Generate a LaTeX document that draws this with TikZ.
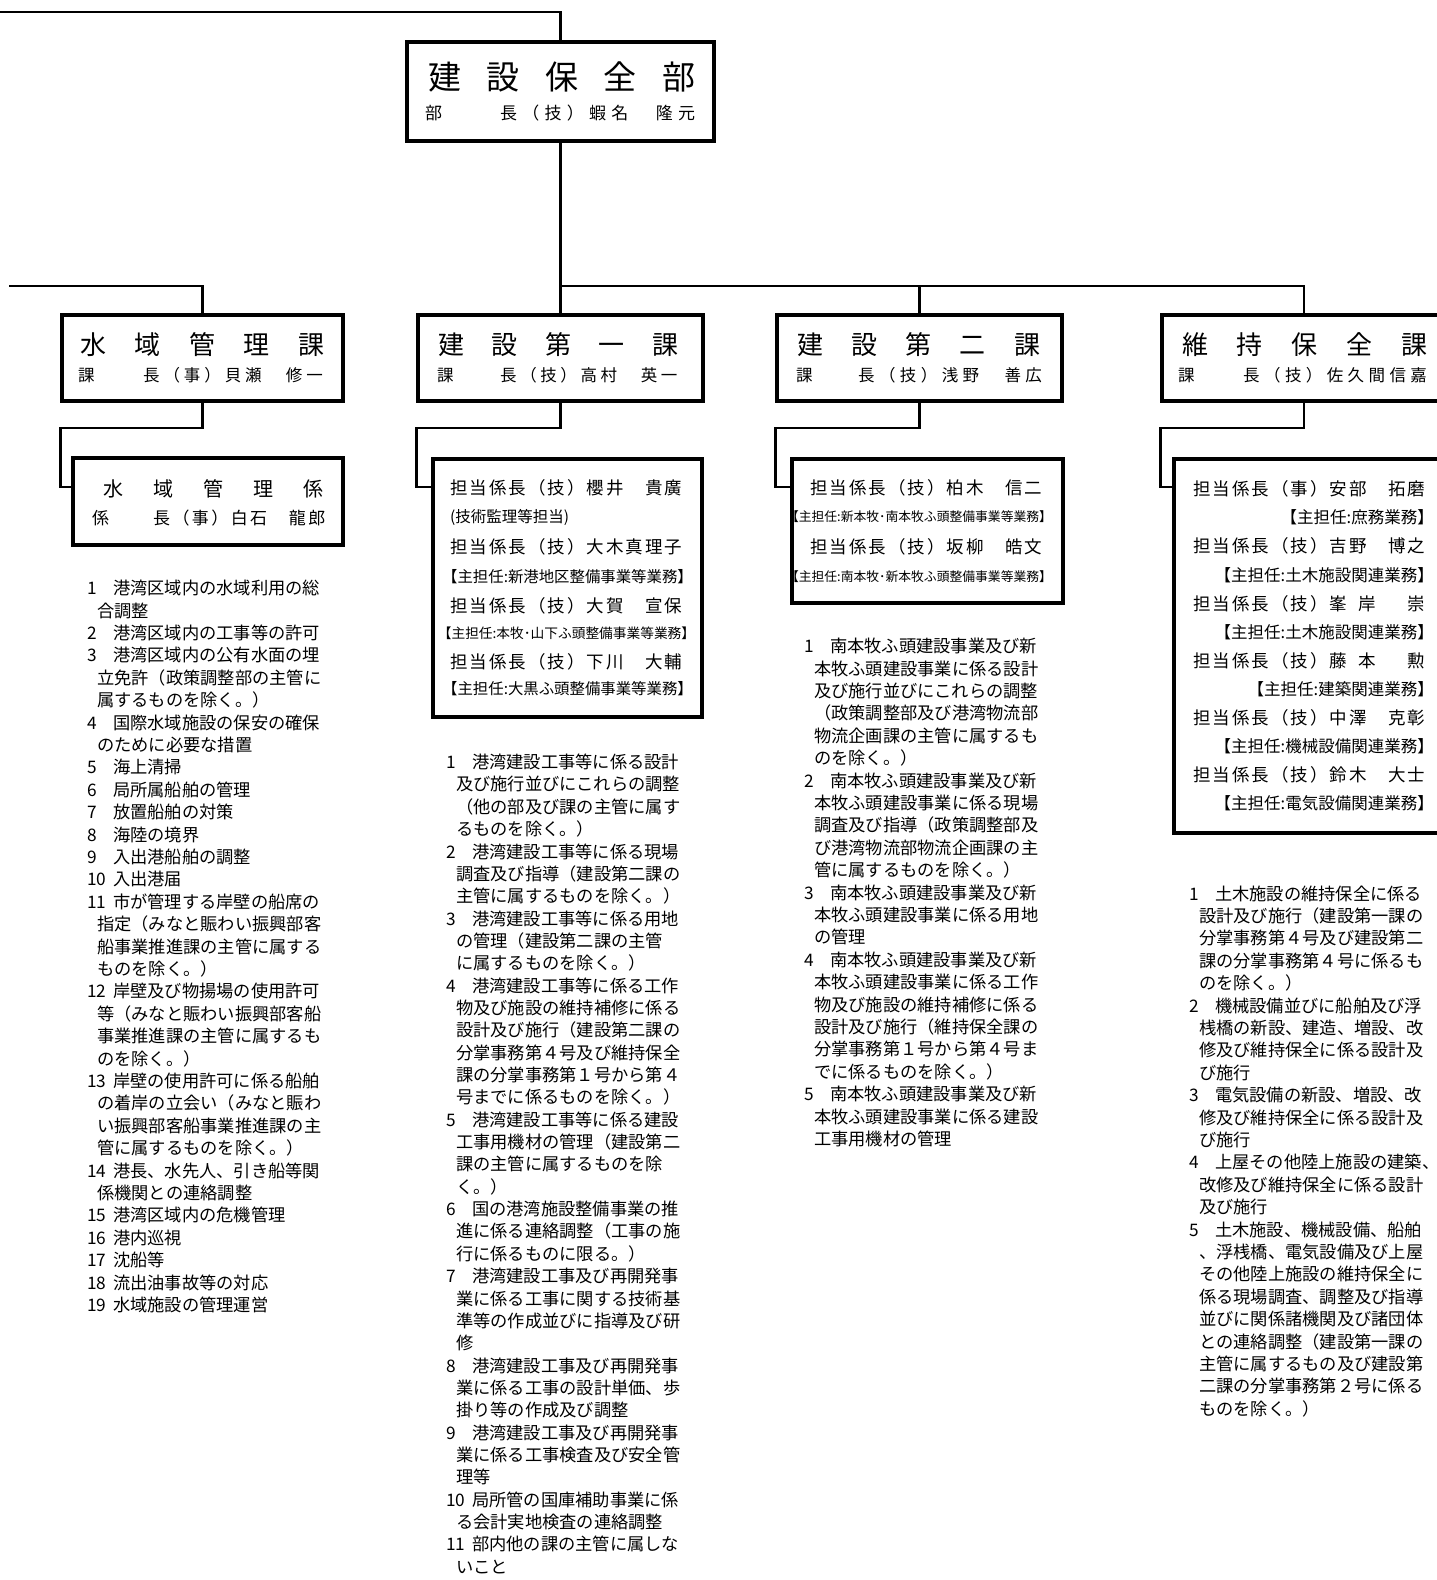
\documentclass[tikz,border=0pt]{standalone}
\usepackage{fontspec}
\setmainfont{Noto Sans CJK JP}
\makeatletter
\newdimen\fixpp
\def\fixpend{\fixpend}
\def\hblk{\hblk}
\def\blk{}
\newcommand\fixp[2]{\fixpp=#1\relax\hbox{\fixp@loop#2\fixpend}}
\def\fixp@loop#1{\ifx#1\fixpend\else\ifx#1\hblk\hspace*{0.5\fixpp}\else\makebox[\fixpp][l]{#1}\fi\expandafter\fixp@loop\fi}
\makeatother
\newcommand\fsz[1]{\fontsize{#1}{#1}\selectfont}
\newcommand\litem[2]{\makebox[26pt][l]{#1}#2}
\newcommand\lcont[1]{\hspace*{10pt}#1}
\begin{document}
\begin{tikzpicture}[x=1pt,y=-1pt,
 box/.style={draw=black, line width=3.4pt, rectangle, inner sep=0pt},
 conn/.style={line width=2.6pt},
 txt/.style={inner sep=0pt, anchor=west},
 lst/.style={inner sep=0pt, anchor=base west, font=\fsz{17.25}},
 ttl/.style={txt, font=\fsz{26}},
 subline/.style={txt, font=\fsz{16.5}},
 tanto/.style={txt, font=\fsz{17.5}},
 shutan/.style={inner sep=0pt}]
\useasboundingbox (0,0) rectangle (1437,1580);
\fill[white] (0,0) rectangle (1437,1580);

% boxes
\node[box, minimum width=307pt, minimum height=99pt] (top) at (560.5,91.5) {};
\node[box, minimum width=281pt, minimum height=86pt] (s1) at (202.5,358) {};
\node[box, minimum width=285pt, minimum height=86pt] (s2) at (560.5,358) {};
\node[box, minimum width=285pt, minimum height=86pt] (s3) at (919.5,358) {};
\node[box, minimum width=284pt, minimum height=86pt] (s4) at (1304,358) {};
\node[box, minimum width=270pt, minimum height=87pt] (b1) at (208,501.5) {};
\node[box, minimum width=269pt, minimum height=258pt] (b2) at (567.5,588) {};
\node[box, minimum width=271pt, minimum height=144pt] (b3) at (927.5,531) {};
\node[box, minimum width=286pt, minimum height=374pt] (b4) at (1317,646) {};

% connectors
\coordinate (tl) at (0,12);
\coordinate (bar) at (0,286);
\coordinate (lb) at (9,286);
\coordinate (ya) at (0,428);
\coordinate (yb) at (0,487);
\draw[conn] (tl) -- (top.north |- tl) -- (top.north);
\draw[conn] (top.south) -- (s2.north);
\draw[conn] (s2.north |- bar) -- (s4.north |- bar) -- (s4.north);
\draw[conn] (s3.north |- bar) -- (s3.north);
\draw[conn] (lb) -- (s1.north |- lb) -- (s1.north);
\foreach \s/\b in {s1/b1,s2/b2,s3/b3,s4/b4}
  \draw[conn] (\s.south) -- (\s.south |- ya) -- (\s.west |- ya) -- (\s.west |- yb) -- (\b.west |- yb);

% top box text
\node[txt, font=\fsz{33}] (t0) at (428,77) {\fixp{58.5pt}{建設保全部}};
\node[txt, font=\fsz{17}] (t0b) at (425,113) {\makebox[75pt][l]{部}\fixp{22.25pt}{長（技）蝦名\blk 隆元}};

% section texts
\node[ttl] (s1t) at (80,345) {\fixp{54.5pt}{水域管理課}};
\node[subline] (s1s) at (78,375) {\makebox[65pt][l]{課}\fixp{20.4pt}{長（事）貝瀬\blk 修一}};
\node[ttl] (s2t) at (438,345) {\fixp{53.5pt}{建設第一課}};
\node[subline] (s2s) at (437,375) {\makebox[63pt][l]{課}\fixp{20.1pt}{長（技）高村\blk 英一}};
\node[ttl] (s3t) at (797,345) {\fixp{54.25pt}{建設第二課}};
\node[subline] (s3s) at (796,375) {\makebox[62pt][l]{課}\fixp{20.9pt}{長（技）浅野\blk 善広}};
\node[ttl] (s4t) at (1182,345) {\fixp{54.75pt}{維持保全課}};
\node[subline] (s4s) at (1178,375) {\makebox[65pt][l]{課}\fixp{20.9pt}{長（技）佐久間信嘉}};

% sub box 1
\node[txt, font=\fsz{20}] (b1t) at (103,488.5) {\fixp{50pt}{水域管理係}};
\node[txt, font=\fsz{17}] (b1s) at (92,518.5) {\makebox[61pt][l]{係}\fixp{19.4pt}{長（事）白石\blk 龍郎}};

% sub box 2
\node[tanto] (b2a) at (450,488) {\fixp{19.5pt}{担当係長（技）櫻井\blk 貴廣}};
\node[txt, font=\fsz{15.5}] (b2b) at (450,517.5) {(技術監理等担当)};
\node[tanto] (b2c) at (450,547) {\fixp{19.5pt}{担当係長（技）大木真理子}};
\node[shutan, font=\fsz{15.4}] (b2d) at (567.5,576.5) {【主担任:新港地区整備事業等業務】};
\node[tanto] (b2e) at (450,605.5) {\fixp{19.5pt}{担当係長（技）大賀\blk 宣保}};
\node[shutan, font=\fsz{13.7}] (b2f) at (566.5,633.5) {【主担任:本牧･山下ふ頭整備事業等業務】};
\node[tanto] (b2g) at (450,662) {\fixp{19.5pt}{担当係長（技）下川\blk 大輔}};
\node[shutan, font=\fsz{15.4}] (b2h) at (567.5,689) {【主担任:大黒ふ頭整備事業等業務】};

% sub box 3
\node[tanto] (b3a) at (810,488) {\fixp{19.5pt}{担当係長（技）柏木\blk 信二}};
\node[shutan, font=\fsz{12.8}] (b3b) at (919,517) {【主担任:新本牧･南本牧ふ頭整備事業等業務】};
\node[tanto] (b3c) at (810,547) {\fixp{19.5pt}{担当係長（技）坂柳\blk 皓文}};
\node[shutan, font=\fsz{12.8}] (b3d) at (919,577) {【主担任:南本牧･新本牧ふ頭整備事業等業務】};

% sub box 4
\node[tanto] (b4a) at (1193,489) {\fixp{19.5pt}{担当係長（事）安部\blk 拓磨}};
\node[shutan, anchor=east, font=\fsz{16.5}] (b4b) at (1434,517.6) {【主担任:庶務業務】};
\node[tanto] (b4c) at (1193,546.2) {\fixp{19.5pt}{担当係長（技）吉野\blk 博之}};
\node[shutan, anchor=east, font=\fsz{16.5}] (b4d) at (1434,574.8) {【主担任:土木施設関連業務】};
\node[tanto] (b4e) at (1193,603.4) {\fixp{19.5pt}{担当係長（技）峯\hblk 岸\blk\hblk 崇}};
\node[shutan, anchor=east, font=\fsz{16.5}] (b4f) at (1434,632) {【主担任:土木施設関連業務】};
\node[tanto] (b4g) at (1193,660.6) {\fixp{19.5pt}{担当係長（技）藤\hblk 本\blk\hblk 勲}};
\node[shutan, anchor=east, font=\fsz{16.5}] (b4h) at (1434,689.2) {【主担任:建築関連業務】};
\node[tanto] (b4i) at (1193,717.8) {\fixp{19.5pt}{担当係長（技）中澤\blk 克彰}};
\node[shutan, anchor=east, font=\fsz{16.5}] (b4j) at (1434,746.4) {【主担任:機械設備関連業務】};
\node[tanto] (b4k) at (1193,775) {\fixp{19.5pt}{担当係長（技）鈴木\blk 大士}};
\node[shutan, anchor=east, font=\fsz{16.5}] (b4l) at (1434,803.6) {【主担任:電気設備関連業務】};

% list 1
\foreach \t [count=\i from 0] in {
 {\litem{1}{港湾区域内の水域利用の総}},
 {\lcont{合調整}},
 {\litem{2}{港湾区域内の工事等の許可}},
 {\litem{3}{港湾区域内の公有水面の埋}},
 {\lcont{立免許（政策調整部の主管に}},
 {\lcont{属するものを除く。）}},
 {\litem{4}{国際水域施設の保安の確保}},
 {\lcont{のために必要な措置}},
 {\litem{5}{海上清掃}},
 {\litem{6}{局所属船舶の管理}},
 {\litem{7}{放置船舶の対策}},
 {\litem{8}{海陸の境界}},
 {\litem{9}{入出港船舶の調整}},
 {\litem{10}{入出港届}},
 {\litem{11}{市が管理する岸壁の船席の}},
 {\lcont{指定（みなと賑わい振興部客}},
 {\lcont{船事業推進課の主管に属する}},
 {\lcont{ものを除く。）}},
 {\litem{12}{岸壁及び物揚場の使用許可}},
 {\lcont{等（みなと賑わい振興部客船}},
 {\lcont{事業推進課の主管に属するも}},
 {\lcont{のを除く。）}},
 {\litem{13}{岸壁の使用許可に係る船舶}},
 {\lcont{の着岸の立会い（みなと賑わ}},
 {\lcont{い振興部客船事業推進課の主}},
 {\lcont{管に属するものを除く。）}},
 {\litem{14}{港長、水先人、引き船等関}},
 {\lcont{係機関との連絡調整}},
 {\litem{15}{港湾区域内の危機管理}},
 {\litem{16}{港内巡視}},
 {\litem{17}{沈船等}},
 {\litem{18}{流出油事故等の対応}},
 {\litem{19}{水域施設の管理運営}}}
 \node[lst] (la\i) at (87,{594.6+\i*22.4}) {\t};

% list 2
\foreach \t [count=\i from 0] in {
 {\litem{1}{港湾建設工事等に係る設計}},
 {\lcont{及び施行並びにこれらの調整}},
 {\lcont{（他の部及び課の主管に属す}},
 {\lcont{るものを除く。）}},
 {\litem{2}{港湾建設工事等に係る現場}},
 {\lcont{調査及び指導（建設第二課の}},
 {\lcont{主管に属するものを除く。）}},
 {\litem{3}{港湾建設工事等に係る用地}},
 {\lcont{の管理（建設第二課の主管}},
 {\lcont{に属するものを除く。）}},
 {\litem{4}{港湾建設工事等に係る工作}},
 {\lcont{物及び施設の維持補修に係る}},
 {\lcont{設計及び施行（建設第二課の}},
 {\lcont{分掌事務第４号及び維持保全}},
 {\lcont{課の分掌事務第１号から第４}},
 {\lcont{号までに係るものを除く。）}},
 {\litem{5}{港湾建設工事等に係る建設}},
 {\lcont{工事用機材の管理（建設第二}},
 {\lcont{課の主管に属するものを除}},
 {\lcont{く。）}},
 {\litem{6}{国の港湾施設整備事業の推}},
 {\lcont{進に係る連絡調整（工事の施}},
 {\lcont{行に係るものに限る。）}},
 {\litem{7}{港湾建設工事及び再開発事}},
 {\lcont{業に係る工事に関する技術基}},
 {\lcont{準等の作成並びに指導及び研}},
 {\lcont{修}},
 {\litem{8}{港湾建設工事及び再開発事}},
 {\lcont{業に係る工事の設計単価、歩}},
 {\lcont{掛り等の作成及び調整}},
 {\litem{9}{港湾建設工事及び再開発事}},
 {\lcont{業に係る工事検査及び安全管}},
 {\lcont{理等}},
 {\litem{10}{局所管の国庫補助事業に係}},
 {\lcont{る会計実地検査の連絡調整}},
 {\litem{11}{部内他の課の主管に属しな}},
 {\lcont{いこと}}}
 \node[lst] (lb\i) at (446,{768.6+\i*22.35}) {\t};

% list 3
\foreach \t [count=\i from 0] in {
 {\litem{1}{南本牧ふ頭建設事業及び新}},
 {\lcont{本牧ふ頭建設事業に係る設計}},
 {\lcont{及び施行並びにこれらの調整}},
 {\lcont{（政策調整部及び港湾物流部}},
 {\lcont{物流企画課の主管に属するも}},
 {\lcont{のを除く。）}},
 {\litem{2}{南本牧ふ頭建設事業及び新}},
 {\lcont{本牧ふ頭建設事業に係る現場}},
 {\lcont{調査及び指導（政策調整部及}},
 {\lcont{び港湾物流部物流企画課の主}},
 {\lcont{管に属するものを除く。）}},
 {\litem{3}{南本牧ふ頭建設事業及び新}},
 {\lcont{本牧ふ頭建設事業に係る用地}},
 {\lcont{の管理}},
 {\litem{4}{南本牧ふ頭建設事業及び新}},
 {\lcont{本牧ふ頭建設事業に係る工作}},
 {\lcont{物及び施設の維持補修に係る}},
 {\lcont{設計及び施行（維持保全課の}},
 {\lcont{分掌事務第１号から第４号ま}},
 {\lcont{でに係るものを除く。）}},
 {\litem{5}{南本牧ふ頭建設事業及び新}},
 {\lcont{本牧ふ頭建設事業に係る建設}},
 {\lcont{工事用機材の管理}}}
 \node[lst] (lc\i) at (804,{652.6+\i*22.4}) {\t};

% list 4
\foreach \t [count=\i from 0] in {
 {\litem{1}{土木施設の維持保全に係る}},
 {\lcont{設計及び施行（建設第一課の}},
 {\lcont{分掌事務第４号及び建設第二}},
 {\lcont{課の分掌事務第４号に係るも}},
 {\lcont{のを除く。）}},
 {\litem{2}{機械設備並びに船舶及び浮}},
 {\lcont{桟橋の新設、建造、増設、改}},
 {\lcont{修及び維持保全に係る設計及}},
 {\lcont{び施行}},
 {\litem{3}{電気設備の新設、増設、改}},
 {\lcont{修及び維持保全に係る設計及}},
 {\lcont{び施行}},
 {\litem{4}{上屋その他陸上施設の建築、}},
 {\lcont{改修及び維持保全に係る設計}},
 {\lcont{及び施行}},
 {\litem{5}{土木施設、機械設備、船舶}},
 {\lcont{、浮桟橋、電気設備及び上屋}},
 {\lcont{その他陸上施設の維持保全に}},
 {\lcont{係る現場調査、調整及び指導}},
 {\lcont{並びに関係諸機関及び諸団体}},
 {\lcont{との連絡調整（建設第一課の}},
 {\lcont{主管に属するもの及び建設第}},
 {\lcont{二課の分掌事務第２号に係る}},
 {\lcont{ものを除く。）}}}
 \node[lst] (ld\i) at (1189,{900.1+\i*22.4}) {\t};
\end{tikzpicture}
\end{document}
